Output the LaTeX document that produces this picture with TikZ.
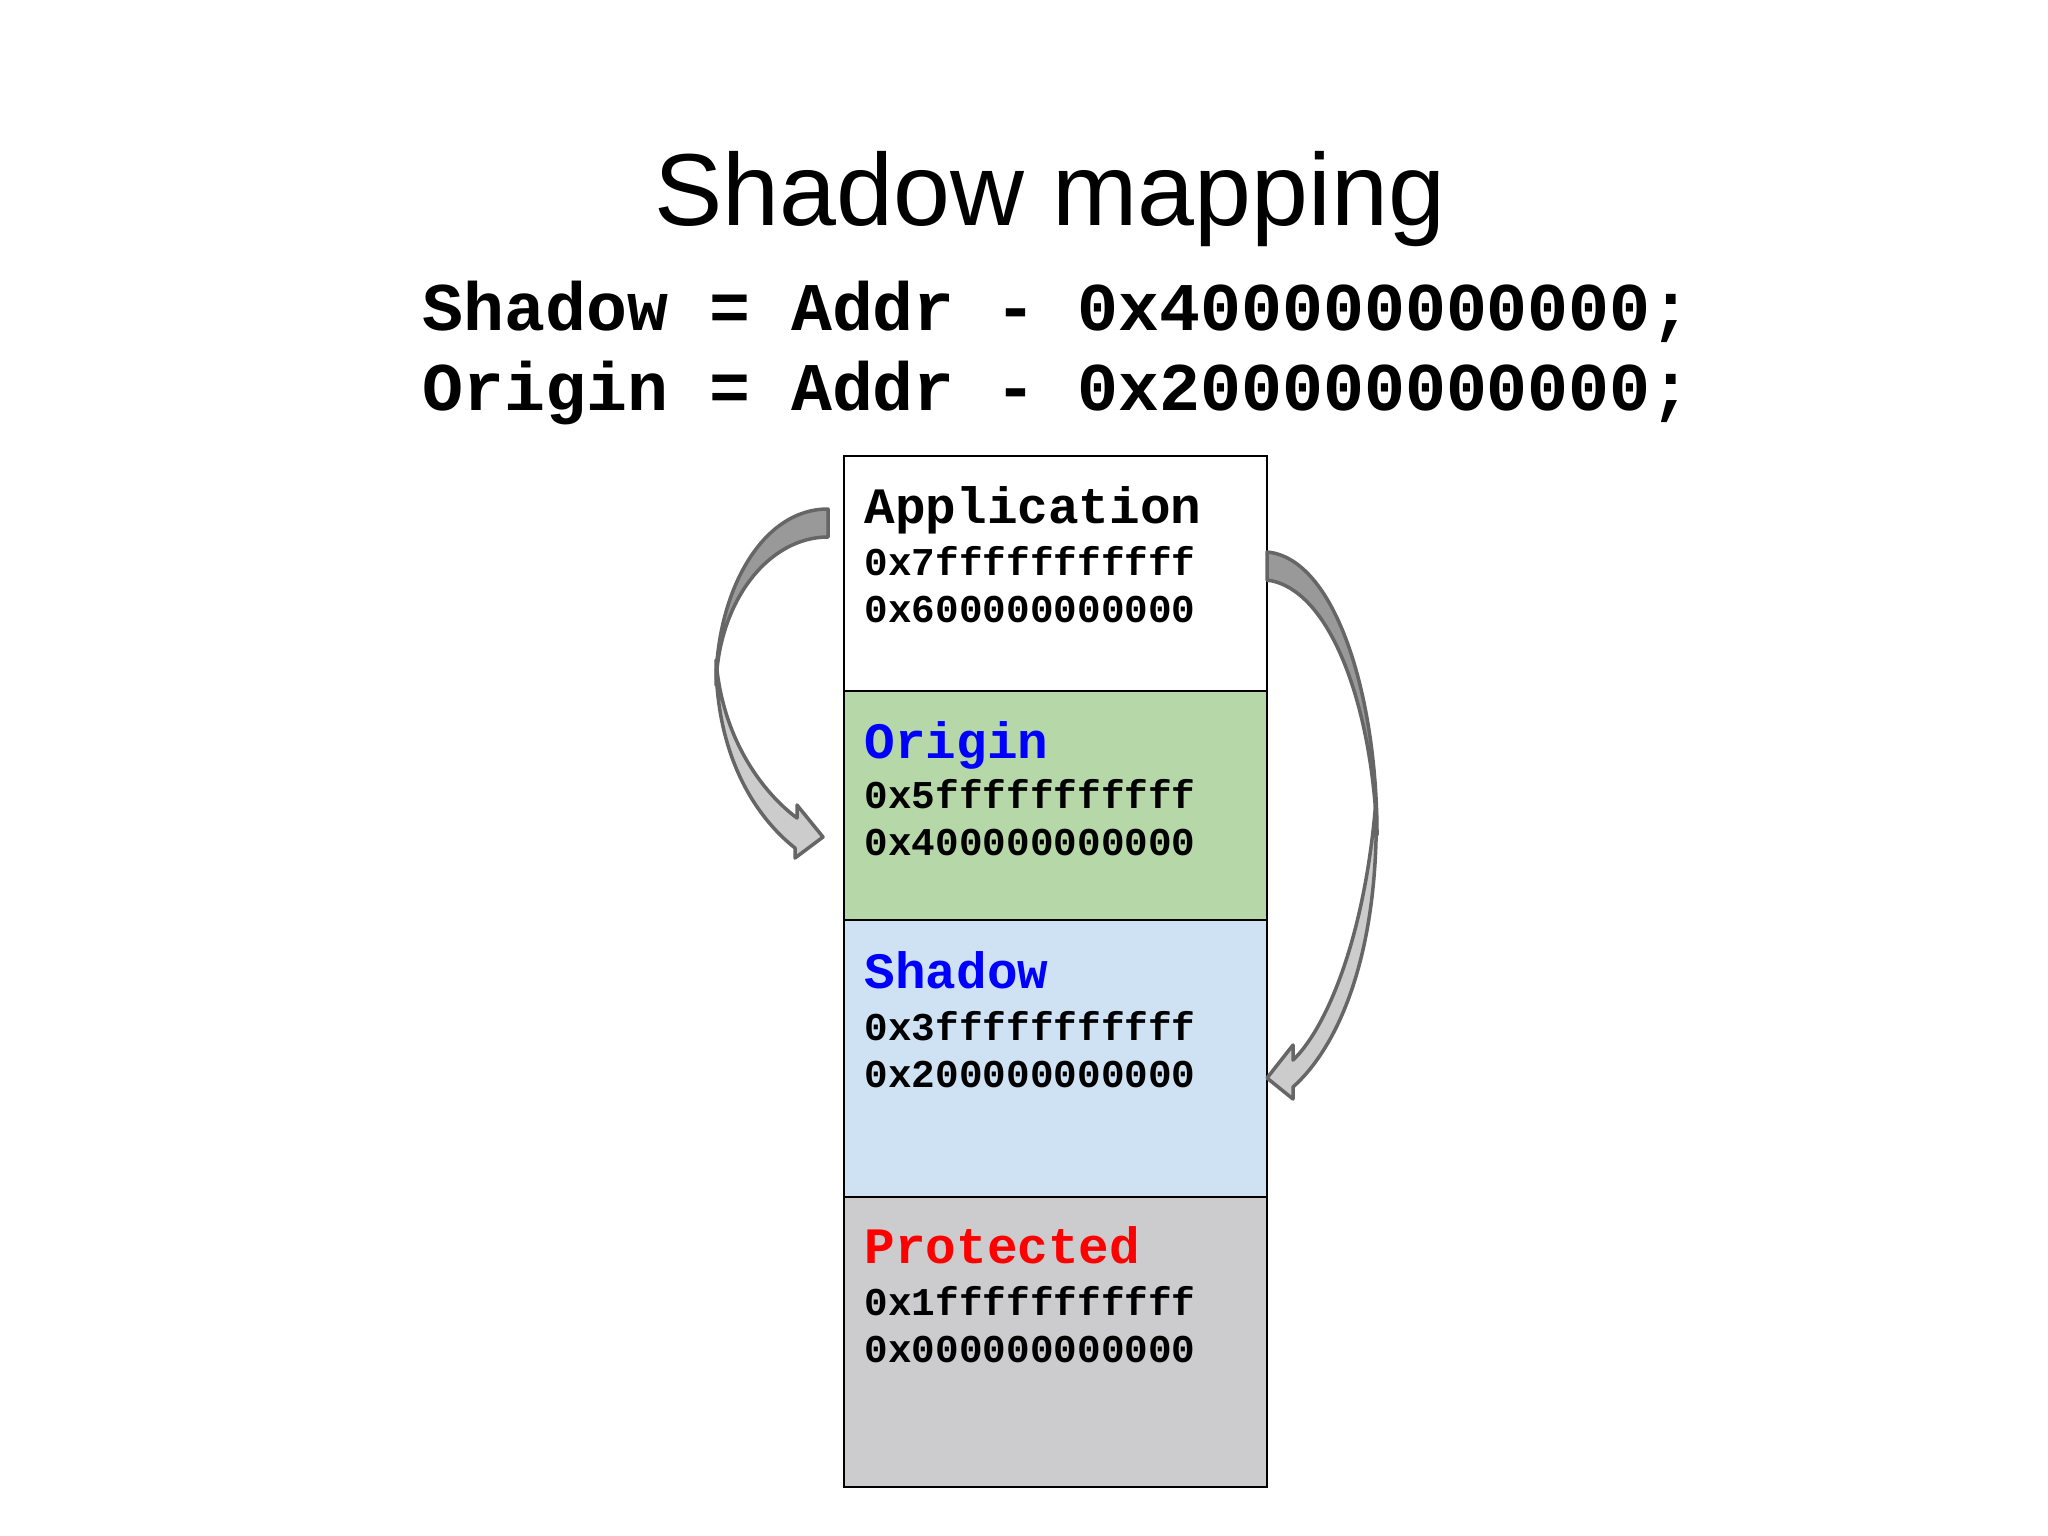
\documentclass[tikz,border=0pt]{standalone}
\usepackage{fontspec}
\setmainfont{Liberation Sans}
\setmonofont{Liberation Mono}
\usetikzlibrary{positioning}
\definecolor{origingreen}{HTML}{B6D7A8}
\definecolor{shadowblue}{HTML}{CFE2F3}
\definecolor{protgray}{HTML}{CCCBCD}
\definecolor{arrowdark}{HTML}{999999}
\definecolor{arrowlight}{HTML}{CCCCCC}
\definecolor{arrowline}{HTML}{666666}
\tikzset{
  region/.style={draw=black, line width=0.7pt, inner sep=0pt, outer sep=0pt, minimum width=4.23cm},
  regname/.style={font=\ttfamily\bfseries\fontsize{14.5}{17}\selectfont, inner sep=0pt, anchor=base west},
  regaddr/.style={font=\ttfamily\bfseries\fontsize{11.2}{13}\selectfont, inner sep=0pt, anchor=base west},
  codeline/.style={font=\ttfamily\bfseries\fontsize{19.4}{23}\selectfont, inner sep=0pt, anchor=base west},
  backband/.style={fill=arrowdark, draw=arrowline, line width=1pt, line join=round},
  frontband/.style={fill=arrowlight, draw=arrowline, line width=1pt, line join=round},
}
\begin{document}
\begin{tikzpicture}[x=0.01cm,y=-0.01cm]
	\useasboundingbox (0,0) rectangle (2048,1536);
	\node[font=\fontsize{29.1}{35}\selectfont, inner sep=0pt, anchor=base] (title) at (1050,225) {Shadow mapping};
	\node[codeline] (shadoweq) at (422,330) {Shadow = Addr - 0x400000000000;};
	\node[codeline] (origineq) at (422,410) {Origin = Addr - 0x200000000000;};

	\node[region, fill=white, minimum height=2.35cm, anchor=north west] (app) at (844,456) {};
	\node[region, fill=origingreen, minimum height=2.285cm, below=0pt of app] (orig) {};
	\node[region, fill=shadowblue, minimum height=2.77cm, below=0pt of orig] (shad) {};
	\node[region, fill=protgray, minimum height=2.9cm, below=0pt of shad] (prot) {};

	\node[regname] (appname) at ([shift={(20,67)}]app.north west) {Application};
	\node[regaddr] (apphi) at ([shift={(20,119)}]app.north west) {0x7fffffffffff};
	\node[regaddr] (applo) at ([shift={(20,166)}]app.north west) {0x600000000000};
	\node[regname, text=blue] (origname) at ([shift={(20,67)}]orig.north west) {Origin};
	\node[regaddr] (orighi) at ([shift={(20,117)}]orig.north west) {0x5fffffffffff};
	\node[regaddr] (origlo) at ([shift={(20,164)}]orig.north west) {0x400000000000};
	\node[regname, text=blue] (shadname) at ([shift={(20,69)}]shad.north west) {Shadow};
	\node[regaddr] (shadhi) at ([shift={(20,121)}]shad.north west) {0x3fffffffffff};
	\node[regaddr] (shadlo) at ([shift={(20,168)}]shad.north west) {0x200000000000};
	\node[regname, text=red] (protname) at ([shift={(20,67)}]prot.north west) {Protected};
	\node[regaddr] (prothi) at ([shift={(20,119)}]prot.north west) {0x1fffffffffff};
	\node[regaddr] (protlo) at ([shift={(20,166)}]prot.north west) {0x000000000000};

	\draw[frontband] (716,660) .. controls (716,758) and (757,818) .. (795,848) -- (795,858) -- (823,837) -- (797,805) -- (797,818) .. controls (762,792) and (722,738) .. (716,660) -- cycle;
	\draw[backband] (828,509) .. controls (760,509) and (716,595) .. (716,685) .. controls (718,602) and (768,537) .. (828,537) -- cycle;

	\draw[frontband] (1376,800) .. controls (1380,950) and (1340,1045) .. (1293,1087) -- (1293,1099) -- (1267,1078) -- (1293,1045) -- (1293,1060) .. controls (1325,1030) and (1365,940) .. (1376,800) -- cycle;
	\draw[backband] (1267,552) .. controls (1335,558) and (1377,695) .. (1377,835) .. controls (1372,705) and (1330,588) .. (1267,580) -- cycle;
\end{tikzpicture}
\end{document}
